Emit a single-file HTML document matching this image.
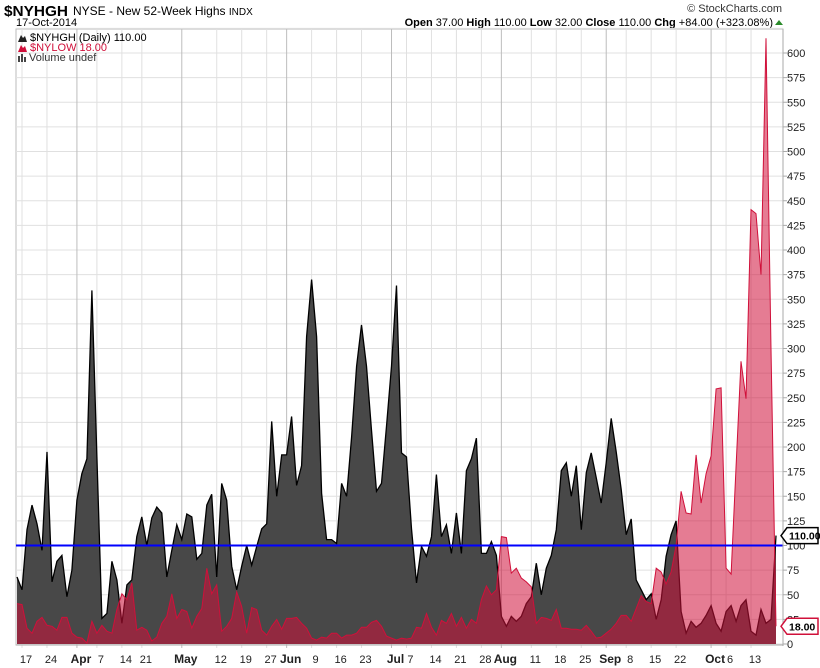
<!DOCTYPE html>
<html><head><meta charset="utf-8">
<style>
body{margin:0;background:#fff;width:820px;height:668px;overflow:hidden;font-family:"Liberation Sans",Arial,sans-serif}
svg{position:absolute;left:0;top:0}
</style></head>
<body>
<svg id="chart" width="820" height="668" xmlns="http://www.w3.org/2000/svg">
<text x="4" y="16" font-size="15" font-weight="bold" fill="#000" textLength="64" lengthAdjust="spacingAndGlyphs">$NYHGH</text>
<text x="73" y="15" font-size="12" fill="#000">NYSE - New 52-Week Highs <tspan font-size="10">INDX</tspan></text>
<text x="16" y="26" font-size="11" fill="#000">17-Oct-2014</text>
<text x="782" y="12" font-size="11" fill="#333" text-anchor="end">© StockCharts.com</text>
<text x="773" y="26" font-size="11" fill="#000" text-anchor="end"><tspan font-weight="bold">Open</tspan> 37.00 <tspan font-weight="bold">High</tspan> 110.00 <tspan font-weight="bold">Low</tspan> 32.00 <tspan font-weight="bold">Close</tspan> 110.00 <tspan font-weight="bold">Chg</tspan> +84.00 (+323.08%)</text>
<path d="M775,25 L779,20 L783,25 Z" fill="#2a8a2a"/>
<g id="grid"></g>
<g id="series"></g>
<g id="axes"></g>
<g>
<path d="M18,42 L21,35 L23,38 L25,36 L27,42 Z" fill="#222"/>
<text x="30" y="41" font-size="11" fill="#000">$NYHGH (Daily) 110.00</text>
<path d="M18,52 L21,45 L23,48 L25,46 L27,52 Z" fill="#d0103a"/>
<text x="30" y="51" font-size="11" fill="#d0103a">$NYLOW 18.00</text>
<rect x="18" y="56" width="2" height="6" fill="#444"/><rect x="21" y="54" width="2" height="8" fill="#444"/><rect x="24" y="57" width="2" height="5" fill="#444"/>
<text x="29" y="61" font-size="11" fill="#333">Volume undef</text>
</g>
</svg>
<script>
const highs=[68,55,116,141,122,95,195,63,84,90,48,75,146,173,188,359,190,26,31,84,65,21,60,65,109,129,100,128,139,133,68,95,121,106,132,129,86,92,141,152,
68,163,146,79,55,79,100,80,99,117,122,226,150,192,192,231,161,181,312,370,312,153,106,106,102,163,150,210,282,324,282,217,155,163,221,282,364,194,190,117,
62,99,89,109,172,109,121,92,133,92,176,188,209,92,92,104,90,28,18,28,23,28,41,48,82,50,77,90,116,176,184,150,181,116,174,194,169,143,184,
229,195,157,111,127,65,55,45,51,25,45,89,111,125,33,11,23,17,21,29,39,21,13,33,39,23,39,45,13,9,35,21,25,110];
const lows=[41,40,16,11,23,27,19,18,14,27,27,11,7,6,1,23,11,19,13,11,35,51,45,62,14,17,14,3,7,21,28,51,26,35,33,16,28,36,77,51,
60,13,18,26,53,38,11,37,35,14,9,18,25,15,26,26,27,21,16,6,4,7,6,11,11,6,9,9,11,17,17,22,24,18,8,6,4,6,5,6,
17,16,31,17,9,24,21,31,18,27,16,25,21,45,59,50,55,109,108,72,77,67,63,58,21,27,26,24,35,16,16,15,15,14,19,13,6,7,11,
15,21,29,29,23,36,49,43,41,77,73,61,73,100,155,133,132,192,143,173,191,259,260,77,71,181,287,249,441,437,375,615,300,18];
const tickLabels=["17","24","Apr","7","14","21","May","12","19","27","Jun","9","16","23","Jul","7","14","21","28","Aug","11","18","25","Sep","8","15","22","Oct","6","13"];
const tickIdx=[1,6,12,16,21,25,33,40,45,50,54,59,64,69,75,78,83,88,93,97,103,108,113,118,122,127,132,139,142,147];
const monthLabels=["Apr","May","Jun","Jul","Aug","Sep","Oct"];
const yTicks=[0,25,50,75,100,125,150,175,200,225,250,275,300,325,350,375,400,425,450,475,500,525,550,575,600];
const refLevel=100;
const lastHigh=110, lastLow=18;

const NS="http://www.w3.org/2000/svg";
const X0=17,X1=776,Y0=644,K=0.985,L=16,R=783,T=29;
const n=highs.length;
function xs(i){return X0+i*(X1-X0)/(n-1);}
function ys(v){return Y0-v*K;}
function mk(tag,attrs,parent){const e=document.createElementNS(NS,tag);for(const k in attrs)e.setAttribute(k,attrs[k]);parent.appendChild(e);return e;}
const grid=document.getElementById('grid'),series=document.getElementById('series'),axes=document.getElementById('axes');

mk('rect',{x:L,y:T,width:R-L,height:Y0+1-T,fill:'#fff',stroke:'#bbb'},grid);
for(let v=0;v<=625;v+=25){const g=mk('line',{x1:L,x2:R,y1:ys(v),y2:ys(v),stroke:'#e0e0e0','stroke-width':1},grid);

}
tickIdx.forEach((ix,j)=>{const isM=monthLabels.includes(tickLabels[j]);
const g=mk('line',{x1:xs(ix),x2:xs(ix),y1:T,y2:Y0+4,stroke:isM?'#bdbdbd':'#e0e0e0','stroke-width':1},grid);


const t=mk('text',{x:xs(ix)+4,y:663,'font-size':isM?12:11,'font-weight':isM?'bold':'normal','text-anchor':'middle',fill:'#222'},axes);
t.textContent=tickLabels[j];

});

function area(arr){let d='M'+xs(0)+','+Y0;arr.forEach((v,i)=>d+=' L'+xs(i).toFixed(1)+','+ys(v).toFixed(1));return d+' L'+xs(n-1)+','+Y0+' Z';}
function line(arr){return arr.map((v,i)=>(i?'L':'M')+xs(i).toFixed(1)+','+ys(v).toFixed(1)).join(' ');}
const ha=mk('path',{d:area(highs),fill:'#484848'},series);


const hl=mk('path',{d:line(highs),fill:'none',stroke:'#000','stroke-width':1.3},series);


const la=mk('path',{d:area(lows),fill:'rgba(208,16,58,0.55)'},series);


const ll=mk('path',{d:line(lows),fill:'none',stroke:'#d0103a','stroke-width':1},series);


const ref=mk('line',{x1:L,x2:R,y1:ys(refLevel),y2:ys(refLevel),stroke:'#0000ff','stroke-width':2},series);



mk('line',{x1:R,x2:R,y1:T,y2:Y0+2,stroke:'#aaa'},axes);
mk('line',{x1:L,x2:R,y1:Y0+1,y2:Y0+1,stroke:'#aaa'},axes);
yTicks.forEach(v=>{mk('line',{x1:R,x2:R+4,y1:ys(v),y2:ys(v),stroke:'#aaa'},axes);
const t=mk('text',{x:R+4,y:ys(v)+4,'font-size':11,fill:'#222'},axes);
t.textContent=v;

});

function tag(v,label,color,name){const y=ys(v);const g=mk('g',{},axes);


mk('path',{d:`M${R-2},${y} L${R+4},${y-8} L${R+35},${y-8} L${R+35},${y+8} L${R+4},${y+8} Z`,fill:'#fff',stroke:color,'stroke-width':1.5},g);
const t=mk('text',{x:R+6,y:y+4,'font-size':10.5,'font-weight':'bold',fill:'#000'},g);t.textContent=label;}
tag(lastHigh,lastHigh.toFixed(2),'#000','last-high-tag');
tag(lastLow,lastLow.toFixed(2),'#d0103a','last-low-tag');
</script>
</body></html>
